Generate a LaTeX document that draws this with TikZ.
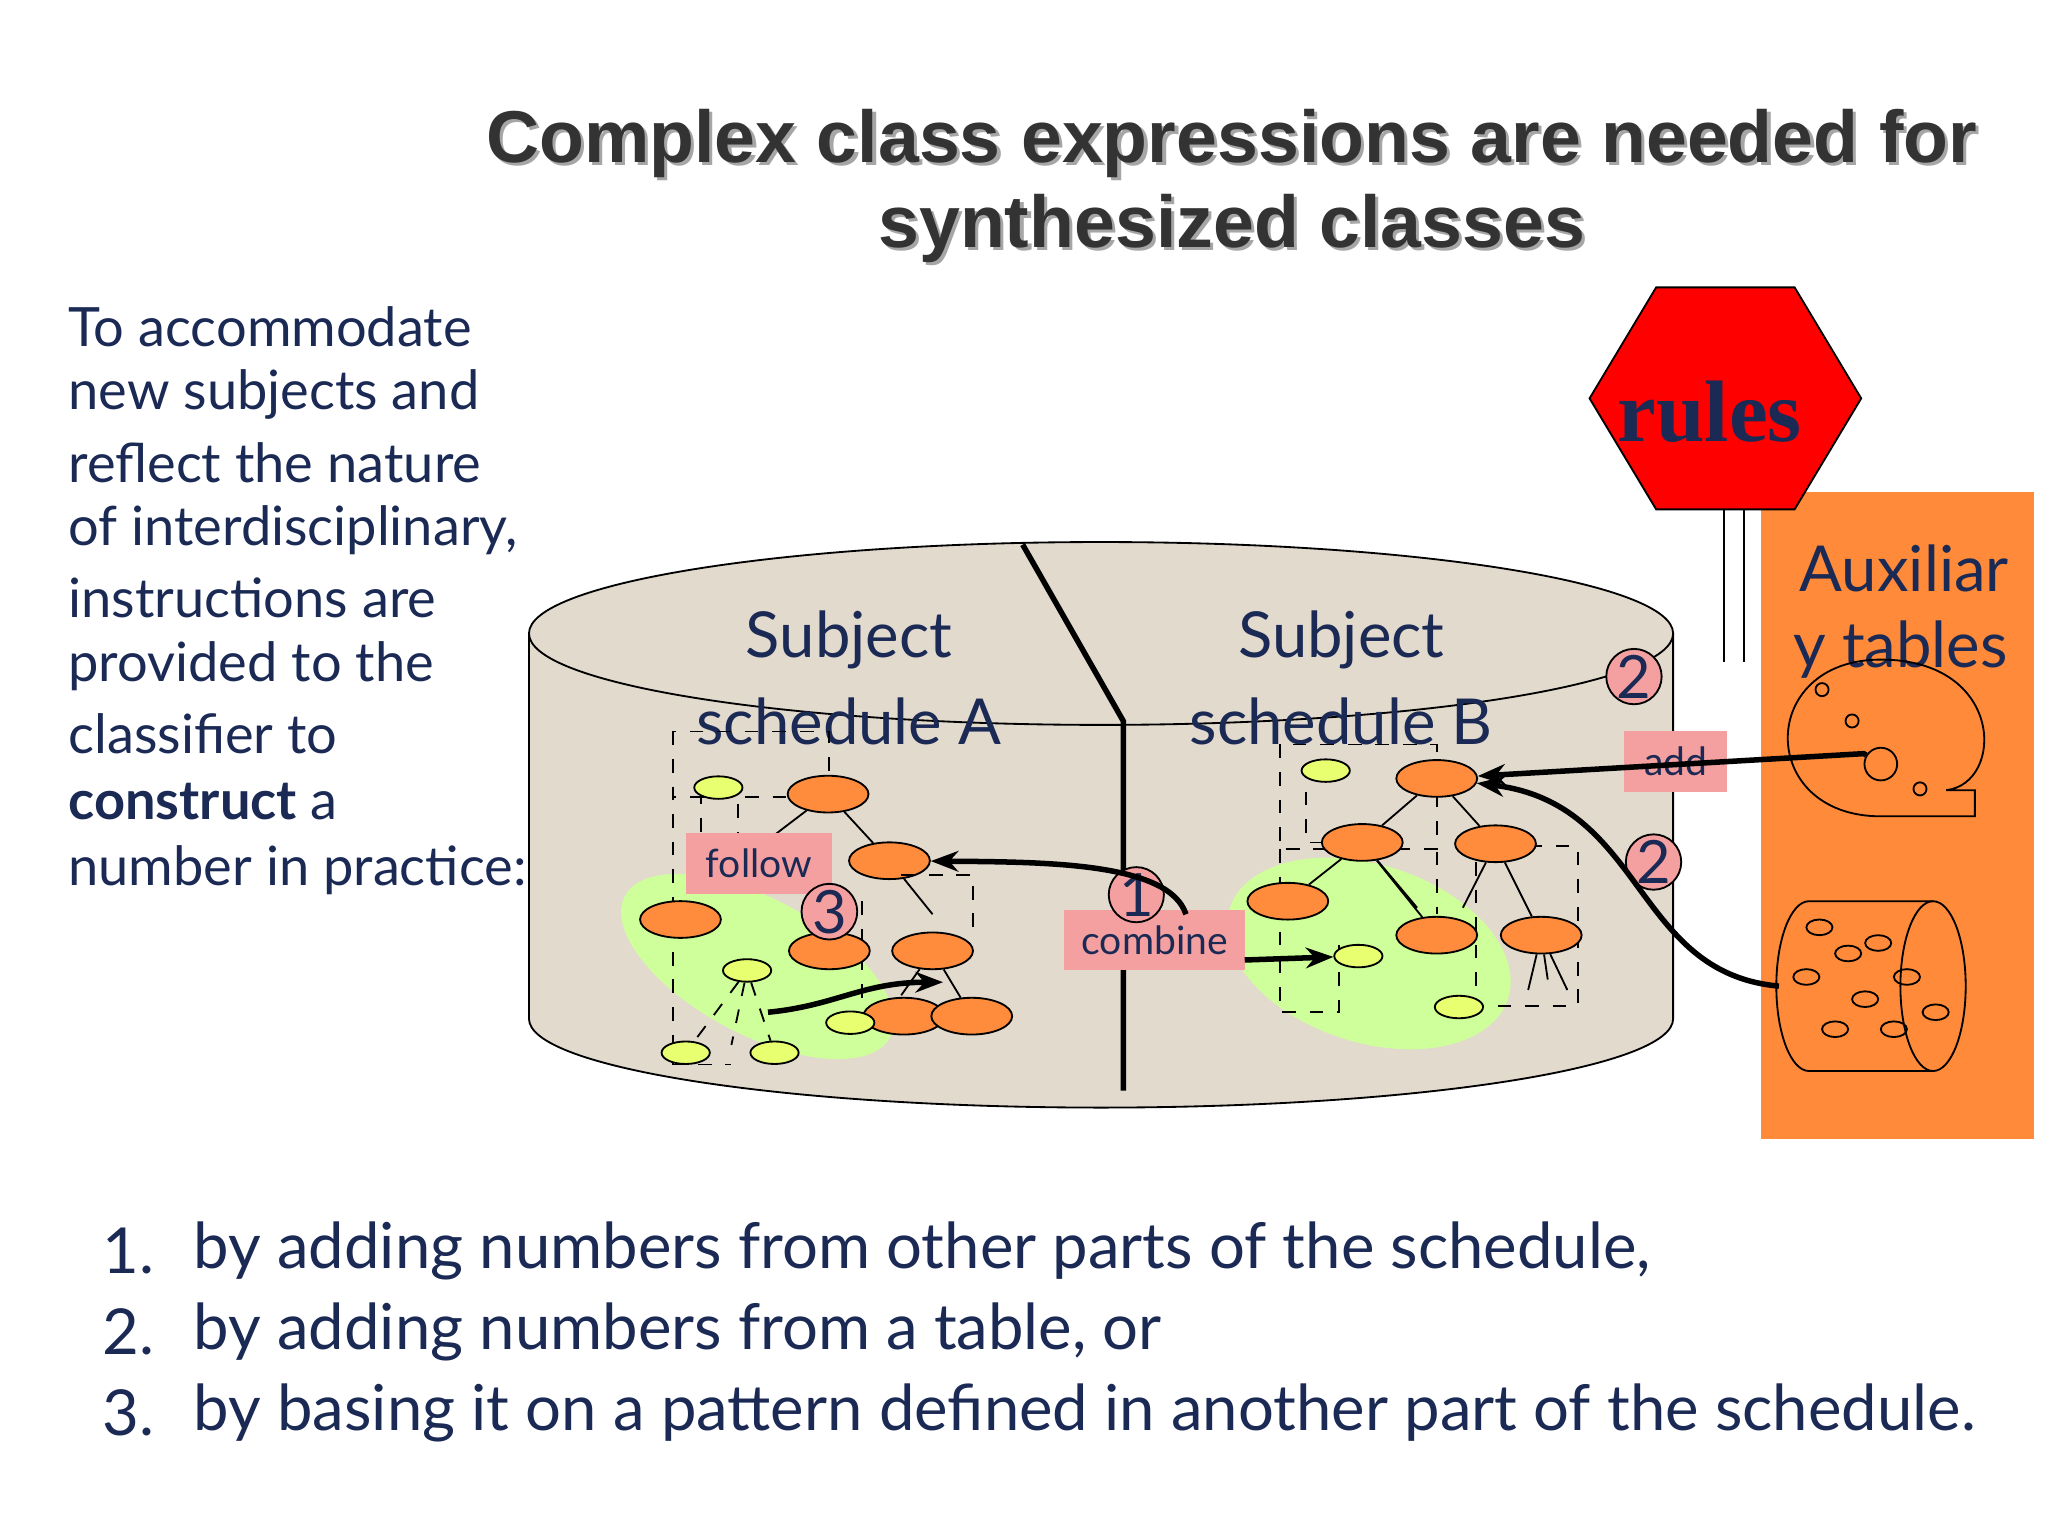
\documentclass[tikz,border=0pt]{standalone}
\usepackage{fontspec}
\setmainfont{Lato}
\newfontfamily\titlefont{Liberation Sans}
\newfontfamily\rulesfont{Liberation Serif}
\usetikzlibrary{shapes.geometric,arrows.meta}
\definecolor{navy}{HTML}{1B2A55}
\definecolor{cyl}{HTML}{E3DACE}
\definecolor{org}{HTML}{FF8A3A}
\definecolor{nodeor}{HTML}{FF8C3C}
\definecolor{yel}{HTML}{E8FF70}
\definecolor{grn}{HTML}{CFFF9A}
\definecolor{pinkb}{HTML}{F4A0A0}
\tikzset{
 on/.style={ellipse,draw,fill=nodeor,minimum width=44pt*0.4,minimum height=20pt*0.4,inner sep=0},
 yn/.style={ellipse,draw,fill=yel,minimum width=30pt*0.35,minimum height=14pt*0.35,inner sep=0},
 lbl/.style={fill=pinkb,text=navy,font=\fontsize{8.5}{10}\selectfont,inner sep=0},
 circ/.style={circle,draw,fill=pinkb,text=navy,font=\fontsize{13}{13}\selectfont,inner sep=0,minimum size=0.42cm},
 dsh/.style={dashed,thin},
 arr/.style={very thick,-{Stealth[length=6pt]}},
 body/.style={text=navy,font=\fontsize{11.8}{14}\selectfont,anchor=west},
 lst/.style={text=navy,font=\fontsize{13.8}{16}\selectfont,anchor=west},
 big/.style={text=navy,font=\fontsize{13.8}{16}\selectfont}
}
\begin{document}
\begin{tikzpicture}[x=0.01cm,y=-0.01cm]
\useasboundingbox[fill=white] (0,0) rectangle (1568,1176);
% title
\foreach \dx/\c in {2.5/gray!70,0/black!80}{
\node[font=\titlefont\bfseries\fontsize{16}{18}\selectfont,text=\c] at (943+\dx,110+\dx) {Complex class expressions are needed for};
\node[font=\titlefont\bfseries\fontsize{16}{18}\selectfont,text=\c] at (943+\dx,175+\dx) {synthesized classes};}
% left text
\foreach \t [count=\i from 0] in {To accommodate,new subjects and,reflect the nature,{of interdisciplinary,},instructions are,provided to the,classifier to,{\textbf{construct} a},number in practice:}
  \node[body] at (40,250+52*\i) {\t};
% orange table area
\fill[org] (1348,377) rectangle (1557,872);
\node[big] at (1458,435) {Auxiliar};
\node[big] at (1455,497) {y tables};
% cylinder
\fill[cyl] (405,485) rectangle (1281,780);
\fill[cyl] (843,780) ellipse[x radius=438,y radius=68];
\fill[cyl] (843,485) ellipse[x radius=438,y radius=70];
\draw (405,485) -- (405,780) arc[start angle=180,end angle=0,x radius=438,y radius=68] -- (1281,485);
\draw (843,485) ellipse[x radius=438,y radius=70];
\draw[very thick] (783,417) -- (860,552) -- (860,835);
% green blobs
\fill[grn] (580,740) ellipse[x radius=115,y radius=52,rotate=-28];
\fill[grn] (1048,730) ellipse[x radius=112,y radius=68,rotate=-18];
\node[big] at (650,490) {Subject};
\node[big] at (650,552) {schedule A};
\node[big] at (1027,490) {Subject};
\node[big] at (1027,552) {schedule B};
% tree A
\draw[dsh] (515,560) rectangle (635,610);
\draw[dsh] (515,560) -- (515,815) -- (560,815);
\draw[dsh] (537,605) -- (537,665) -- (565,665) -- (565,605);
\draw[dsh] (660,690) -- (660,770);
\node[on] (a1) at (634,608) {};
\node[yn] (a2) at (550,603) {};
\node[on] (a3) at (681,659) {};
\node[on] (a4) at (521,704) {};
\node[on] (a5) at (635,728) {};
\node[on] (a6) at (714,728) {};
\node[on] (a7) at (692,778) {};
\node[on] (a8) at (744,778) {};
\node[yn] (a9) at (572,743) {};
\node[yn] (a10) at (525,806) {};
\node[yn] (a11) at (593,806) {};
\node[yn] (a12) at (651,783) {};
\draw (a1)--(592,640) (a1)--(a3);
\draw (a3)--(714,700) (a6)--(a8) (a6)--(690,762);
\draw[dsh] (a9)--(a10) (a9)--(a11) (a9)--(560,800);
\draw[dsh] (690,670) -- (745,670) -- (745,710);
% tree B
\draw[dsh] (980,570) rectangle (1100,650);
\draw[dsh] (1000,585) -- (1000,645) -- (1020,645);
\draw[dsh] (980,650) -- (980,775) -- (1025,775) -- (1025,720);
\draw[dsh] (1100,652) -- (1100,700);
\draw[dsh] (1130,660) -- (1130,770) -- (1208,770) -- (1208,648) -- (1170,648);
\node[on] (b1) at (1100,596) {};
\node[yn] (b2) at (1015,590) {};
\node[on] (b3) at (1043,645) {};
\node[on] (b4) at (1145,646) {};
\node[on] (b5) at (986,690) {};
\node[on] (b6) at (1100,716) {};
\node[on] (b7) at (1180,716) {};
\node[yn] (b8) at (1040,732) {};
\node[yn] (b9) at (1117,771) {};
\draw (b1)--(b3) (b1)--(b4) (b3)--(b5) (b3)--(b6) (b3)--(1085,695) (b4)--(b7) (b4)--(1120,695);
\draw (b7)--(1170,758) (b7)--(1200,758) (b7)--(1185,750);
% labels
\node[lbl,minimum width=1.12cm,minimum height=0.47cm] (fol) at (581,661) {follow};
\node[lbl,minimum width=1.38cm,minimum height=0.46cm] (com) at (884,720) {combine};
\node[lbl,minimum width=0.79cm,minimum height=0.46cm] (add) at (1283,583) {add};
\node[circ] (c3) at (635,698) {3};
\node[circ] (c1) at (870,685) {1};
\node[circ] (c2a) at (1251,518) {2};
\node[circ] (c2b) at (1266,660) {2};
% arrows
\draw[arr] (908,700) .. controls (895,660) and (800,660) .. (a3);
\draw[arr] (953,735) -- (b8);
\draw[arr] (588,775) .. controls (640,770) and (660,752) .. (722,752);
% rules
\filldraw[fill=red] (1217,305) -- (1268,220) -- (1374,220) -- (1425,305) -- (1374,390) -- (1268,390) -- cycle;
\node[text=navy,font=\rulesfont\bfseries\fontsize{19}{20}\selectfont] (rules) at (1309,315) {rules};
\draw (1320,390) -- (1320,507) (1335,390) -- (1335,507);
% aux shapes
\draw (1440,625) .. controls (1345,625) and (1345,505) .. (1440,505) .. controls (1535,505) and (1535,600) .. (1490,605) -- (1512,605) -- (1512,625) -- cycle;
\foreach \p/\r in {{(1395,528)}/5,{(1418,552)}/5,{(1470,604)}/5}\draw \p circle[radius=\r];
\node[circle,draw,minimum size=0.25cm,inner sep=0] (hole) at (1440,585) {};
\draw (1385,690) -- (1480,690) arc[start angle=270,end angle=450,x radius=25,y radius=65] -- (1385,820) arc[start angle=90,end angle=270,x radius=25,y radius=65];
\draw (1480,690) arc[start angle=270,end angle=90,x radius=25,y radius=65];
\foreach \p in {(1393,710),(1438,722),(1415,730),(1383,748),(1428,765),(1460,748),(1482,775),(1405,788),(1450,788)}
  \draw \p ellipse[x radius=10,y radius=6];
\coordinate (cylend) at (1362,755);
\draw[arr] (hole) -- (1427,577) -- (b1);
\draw[arr] (cylend) .. controls (1250,745) and (1260,615) .. (b1);
% list
\foreach \n/\t [count=\i from 0] in {1./by adding numbers from other parts of the schedule{,},2./by adding numbers from a table{,} or,3./by basing it on a pattern defined in another part of the schedule.}{
  \node[lst] at (66,958+62*\i) {\n};
  \node[lst] at (136,958+62*\i) {\t};}
\end{tikzpicture}
\end{document}
